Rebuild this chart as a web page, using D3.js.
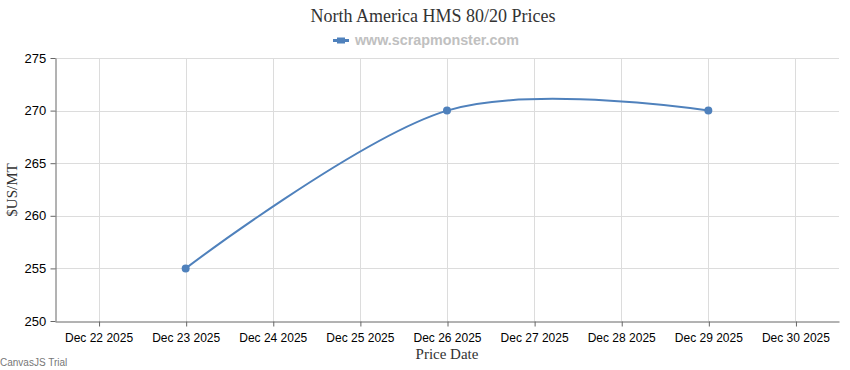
<!DOCTYPE html>
<html><head><meta charset="utf-8">
<script src="https://cdn.jsdelivr.net/npm/d3@7/dist/d3.min.js"></script>
<style>body{margin:0;background:#fff}svg{display:block}</style>
</head><body><svg id="c" width="850" height="370"></svg>
<script>
const dates = ["2025-12-23", "2025-12-26", "2025-12-29"];
const prices = [255, 270, 270];
const tickDates = ["2025-12-22","2025-12-23","2025-12-24","2025-12-25","2025-12-26","2025-12-27","2025-12-28","2025-12-29","2025-12-30"];
const yTicks = [250, 255, 260, 265, 270, 275];
const title = "North America HMS 80/20 Prices";
const legendLabel = "www.scrapmonster.com";

const parse = d3.utcParse("%Y-%m-%d");
const fmt = d3.utcFormat("%b %d %Y");
const svg = d3.select("#c");
const L = 55, R = 839, T = 58, B = 321;
const day = 86400000;
const x = d3.scaleUtc().domain([new Date(parse(tickDates[0]) - day/2), new Date(+parse(tickDates[tickDates.length-1]) + day/2)]).range([L, R]);
const y = d3.scaleLinear().domain([250, 275]).range([B, T]);

// grid
svg.append("g").selectAll("line").data(tickDates).join("line")
  .attr("x1", d => Math.round(x(parse(d))) + 0.5).attr("x2", d => Math.round(x(parse(d))) + 0.5)
  .attr("y1", T).attr("y2", B).attr("stroke", "#dcdcdc").attr("stroke-width", 1);
svg.append("g").selectAll("line").data(yTicks.slice(1)).join("line")
  .attr("x1", L).attr("x2", R)
  .attr("y1", d => Math.round(y(d)) + 0.5).attr("y2", d => Math.round(y(d)) + 0.5)
  .attr("stroke", "#dcdcdc").attr("stroke-width", 1);

// axes
const xa = svg.append("g").attr("transform", `translate(0,${B + 0.5})`)
  .call(d3.axisBottom(x).tickValues(tickDates.map(parse)).tickFormat(fmt).tickSize(5).tickSizeOuter(0));
const ya = svg.append("g").attr("transform", `translate(${L + 0.5},0)`)
  .call(d3.axisLeft(y).tickValues(yTicks).tickSize(5).tickSizeOuter(0));
[xa, ya].forEach(a => {
  a.select(".domain").attr("stroke", "#666");
  a.selectAll(".tick line").attr("stroke", "#666");
  a.selectAll("text").attr("fill", "#000");
});
xa.selectAll("text").attr("dy", "1.05em").attr("font-family", "'Liberation Sans', Arial, sans-serif").attr("font-size", 12);
ya.selectAll("text").attr("font-family", "'Liberation Sans', Arial, sans-serif").attr("font-size", 13).attr("dx", "-0.1em");
xa.selectAll(".tick line").attr("transform", "translate(0.5,0)");

// line
const pts = dates.map((d, i) => ({ d: parse(d), v: prices[i] }));
svg.append("path").datum(pts)
  .attr("d", d3.line().x(p => x(p.d)).y(p => y(p.v)).curve(d3.curveCardinal.tension(0)))
  .attr("fill", "none").attr("stroke", "#4f81bc").attr("stroke-width", 2);
svg.append("g").selectAll("circle").data(pts).join("circle")
  .attr("cx", p => x(p.d)).attr("cy", p => y(p.v)).attr("r", 4).attr("fill", "#4f81bc");

// title
svg.append("text").attr("x", 433).attr("y", 22).attr("text-anchor", "middle")
  .attr("font-family", "'Liberation Serif', 'Times New Roman', serif").attr("font-size", 18).attr("fill", "#333").text(title);
// legend
svg.append("line").attr("x1", 333).attr("x2", 349).attr("y1", 40.5).attr("y2", 40.5).attr("stroke", "#4f81bc").attr("stroke-width", 3);
svg.append("rect").attr("x", 337).attr("y", 37.5).attr("width", 8).attr("height", 6).attr("fill", "#4f81bc");
svg.append("text").attr("x", 355).attr("y", 45).attr("font-family", "'Liberation Sans', Arial, sans-serif")
  .attr("font-weight", "bold").attr("font-size", 14).attr("textLength", 164).attr("lengthAdjust", "spacingAndGlyphs")
  .attr("fill", "#c0c0c0").text(legendLabel);
// axis titles
svg.append("text").attr("x", 447).attr("y", 359).attr("text-anchor", "middle")
  .attr("font-family", "'Liberation Serif', 'Times New Roman', serif").attr("font-size", 15).attr("fill", "#333").text("Price Date");
svg.append("text").attr("transform", "translate(17,190) rotate(-90)").attr("text-anchor", "middle")
  .attr("font-family", "'Liberation Serif', 'Times New Roman', serif").attr("font-size", 15).attr("fill", "#333").text("$US/MT");
svg.append("text").attr("x", 0).attr("y", 366).attr("font-family", "'Liberation Sans', Arial, sans-serif")
  .attr("font-size", 10).attr("fill", "#777").text("CanvasJS Trial");
</script></body></html>
